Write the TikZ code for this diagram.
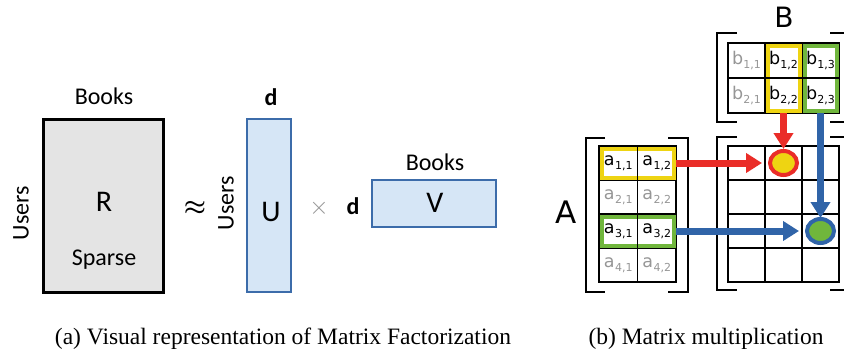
\documentclass[tikz,border=0pt]{standalone}
\usepackage{fontspec}
\setmainfont{Carlito}
\newfontfamily\djv{DejaVu Sans}
\newfontfamily\tms{Liberation Serif}
\usetikzlibrary{arrows.meta}
\definecolor{yellowH}{RGB}{238,212,18}
\definecolor{greenH}{RGB}{112,182,60}
\definecolor{redA}{RGB}{234,45,40}
\definecolor{blueA}{RGB}{48,100,168}
\definecolor{grayT}{RGB}{150,150,150}
\definecolor{ufill}{RGB}{214,230,246}
\definecolor{uline}{RGB}{60,108,170}
\definecolor{rfill}{RGB}{228,228,228}
\newcommand\mel[2]{#1\kern0.3pt\raisebox{-4.5pt}{\fontsize{11}{11}\selectfont #2}}
\begin{document}
\begin{tikzpicture}[x=1pt,y=-1pt,
  lbl/.style={font=\fontsize{24}{26}\selectfont, inner sep=0},
  bold/.style={font=\fontsize{24}{26}\selectfont\bfseries, inner sep=0},
  big/.style={font=\fontsize{30}{32}\selectfont, inner sep=0},
  cell/.style={draw=black, line width=1.5, outer sep=0, inner sep=0, font=\djv\fontsize{17.5}{19}\selectfont},
  acell/.style={cell, minimum width=38.5, minimum height=34},
  bcell/.style={cell, minimum width=37, minimum height=35},
  ccell/.style={cell, minimum width=37, minimum height=34},
  dim/.style={text=grayT},
  hl/.style={line width=4},
  arr/.style={line width=7, -{Triangle[length=16pt,width=19pt]}},
  brk/.style={line width=2.5},
  ring/.style={line width=4},
  captxt/.style={font=\tms\fontsize{23.5}{26}\selectfont, inner sep=0}
]
\useasboundingbox (0,0) rectangle (844,364);
\clip (0,0) rectangle (844,364);

% ---------- (a) ----------
\node[draw=black, line width=3, fill=rfill, minimum width=120, minimum height=173, inner sep=0] (R) at (103,205.5) {};
\node[big] (Rl) at (104,202) {R};
\node[lbl] (sparse) at (104,260) {Sparse};
\node[lbl] (booksR) at (104,96) {Books};
\node[lbl, rotate=90] (usersR) at (21,213) {Users};
\node[font=\fontsize{26}{28}\selectfont\boldmath, inner sep=0] (approx) at (195,208) {$\approx$};

\node[draw=uline, line width=2.8, fill=ufill, minimum width=44, minimum height=173, inner sep=0] (U) at (269,205.5) {};
\node[big] (Ul) at (271,212) {U};
\node[bold] (dU) at (271,97) {d};
\node[lbl, rotate=90] (usersU) at (226,203) {Users};
\node[font=\fontsize{24}{26}\selectfont, text=grayT, inner sep=0] (times) at (319,208) {$\times$};
\node[bold] (dV) at (353,206) {d};

\node[draw=uline, line width=2.8, fill=ufill, minimum width=124, minimum height=47, inner sep=0] (V) at (434,203.5) {};
\node[big] (Vl) at (435,203) {V};
\node[lbl] (booksV) at (435,162) {Books};

\node[captxt] (capa) at (283,339) {(a) Visual representation of Matrix Factorization};

% ---------- (b) ----------
% matrix A
\node[acell] (a11) at (618.25,163) {\mel{a}{1,1}};
\node[acell] (a12) at (656.75,163) {\mel{a}{1,2}};
\node[acell, dim] (a21) at (618.25,197) {\mel{a}{2,1}};
\node[acell, dim] (a22) at (656.75,197) {\mel{a}{2,2}};
\node[acell] (a31) at (618.25,231) {\mel{a}{3,1}};
\node[acell] (a32) at (656.75,231) {\mel{a}{3,2}};
\node[acell, dim] (a41) at (618.25,265) {\mel{a}{4,1}};
\node[acell, dim] (a42) at (656.75,265) {\mel{a}{4,2}};

% matrix B
\node[bcell, dim] (b11) at (746.5,60.5) {\mel{b}{1,1}};
\node[bcell] (b12) at (783.5,60.5) {\mel{b}{1,2}};
\node[bcell] (b13) at (820.5,60.5) {\mel{b}{1,3}};
\node[bcell, dim] (b21) at (746.5,95.5) {\mel{b}{2,1}};
\node[bcell] (b22) at (783.5,95.5) {\mel{b}{2,2}};
\node[bcell] (b23) at (820.5,95.5) {\mel{b}{2,3}};

% matrix C
\foreach \r in {1,...,4}
  \foreach \c in {1,2,3}
    \node[ccell] (c\r\c) at ({728+37*(\c-0.5)}, {146+34*(\r-0.5)}) {};

% highlights
\draw[hl, yellowH] ([shift={(2.5,2.5)}]a11.north west) rectangle ([shift={(-2.5,-2.5)}]a12.south east);
\draw[hl, greenH] ([shift={(2.5,2.5)}]a31.north west) rectangle ([shift={(-2.5,-2.5)}]a32.south east);
\draw[hl, yellowH] ([shift={(2.5,2.5)}]b12.north west) rectangle ([shift={(-2.5,-2.5)}]b22.south east);
\draw[hl, greenH] ([shift={(2.5,2.5)}]b13.north west) rectangle ([shift={(-2.5,-2.5)}]b23.south east);
\draw[line width=1.5] (a11.north east) -- (a11.south east);
\draw[line width=1.5] (a31.north east) -- (a31.south east);
\draw[line width=1.5] (b12.south west) -- (b12.south east);
\draw[line width=1.5] (b13.south west) -- (b13.south east);

% labels
\node[font=\djv\fontsize{31}{33}\selectfont, inner sep=0] (Al) at (566,212) {A};
\node[font=\djv\fontsize{28}{30}\selectfont, inner sep=0] (Bl) at (784,17) {B};

% brackets
\draw[brk] (605,138) -- (586,138) -- (586,292) -- (605,292);
\draw[brk] (668,138) -- (688,138) -- (688,292) -- (668,292);
\draw[brk] (737,33) -- (717,33) -- (717,122) -- (737,122);
\draw[brk] (830,33) -- (850,33) -- (850,122) -- (830,122);
\draw[brk] (737,137) -- (717,137) -- (717,290) -- (737,290);
\draw[brk] (830,137) -- (850,137) -- (850,290) -- (830,290);

% arrows
\draw[arr, redA] (a12.east) -- ([xshift=-3]c12.west);
\draw[arr, redA] (b22.south) -- ([yshift=-3]c12.north);
\draw[arr, blueA] (b23.south) -- ([yshift=-4]c33.north);
\draw[arr, blueA] (a32.east) -- ([xshift=-3]c33.west);

% result circles
\draw[ring, draw=redA, fill=yellowH] (c12.center) ellipse [x radius=13.5, y radius=12];
\draw[ring, draw=blueA, fill=greenH] (c33.center) ellipse [x radius=13.5, y radius=12];

\node[captxt] (capb) at (706,339) {(b) Matrix multiplication};
\end{tikzpicture}
\end{document}
